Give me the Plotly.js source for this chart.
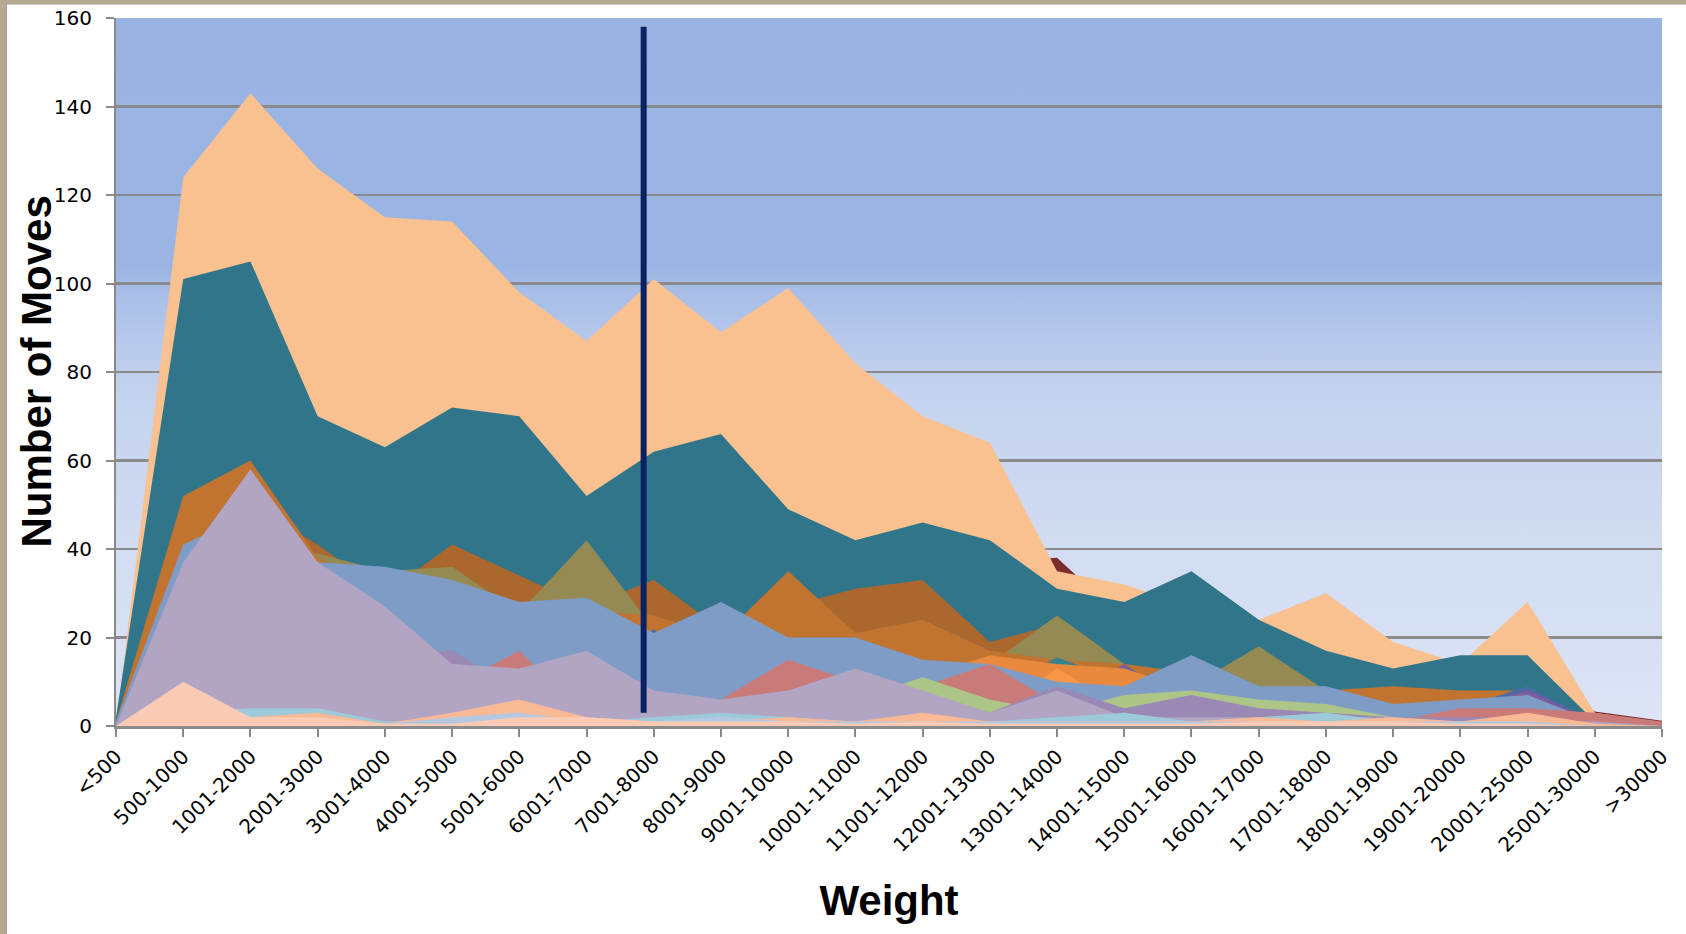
<!DOCTYPE html>
<html>
<head>
<meta charset="utf-8">
<script src="https://cdn.plot.ly/plotly-3.0.1.min.js"></script>
<style>
  html, body { margin: 0; padding: 0; background: #ffffff; }
  #wrap { position: relative; width: 1686px; height: 934px; overflow: hidden; background: #ffffff; }
  #frameTop { position: absolute; left: 0; top: 0; width: 1686px; height: 4px; background: #b5a991; border-bottom: 1px solid #c9c9c9; }
  #frameLeft { position: absolute; left: 0; top: 0; width: 6px; height: 934px; background: #b5a991; border-right: 1px solid #a7a29a; }
  #plotBg { position: absolute; left: 116px; top: 18px; width: 1546px; height: 708px;
    background: linear-gradient(to bottom, #99b4e2 0%, #9ab5e3 35%, #a8bee7 39%, #b3c6ea 44%, #bfcdec 49%, #c5d3ee 54%, #d2dcf2 75%, #dce4f5 100%); }
  #chart { position: absolute; left: 0; top: 0; width: 1686px; height: 934px; }
</style>
</head>
<body>
<div id="wrap">
  <div id="frameTop"></div>
  <div id="frameLeft"></div>
  <div id="plotBg"></div>
  <div id="chart"></div>
</div>
<script>
// ---- data ----
const categories = ['<500','500-1000','1001-2000','2001-3000','3001-4000','4001-5000','5001-6000','6001-7000','7001-8000','8001-9000','9001-10000','10001-11000','11001-12000','12001-13000','13001-14000','14001-15000','15001-16000','16001-17000','17001-18000','18001-19000','19001-20000','20001-25000','25001-30000','>30000'];

const maroon      = [0,60,70,60,55,50,45,40,45,40,45,38,40,37,38,24,20,15,15,10,8,12,3.3,1.2];
const peach       = [0,124,143,126,115,114,98,87,101,89,99,82,70,64,35,32,27,24,30,19,14,28,3,0.5];
const teal        = [2,101,105,70,63,72,70,52,62,66,49,42,46,42,31,28,35,24,17,13,16,16,1,0.5];
const darkBrown   = [0,45,50,41,30,41,34,27,33,22,27,31,33,19,23,13,10,8,7,6,5,4,1,0];
const olive       = [0,30,40,39,35,36,25.6,42,22,15,12,10,10,14,25,14,9,18,8,5,4,3,1,0];
const orange      = [1,52,60,38,30,30,26,26,25,20,35,21,24,17,15,14,12,8,8,9,8,8,1,0];
const smallTeal   = [0,4,5,4,4,4,3,3,3,3,3,3,3,8,15.5,10,4,3,3,2,2,2,0,0];
const darkBlue    = [0,3,5,5,4,4,4,5,22,5,5,4,4,4,4,4,3,3,3,3,4,9,1,0];
const purple      = [0,3,4,4,3,3,3,3,3,3,3,3,3,3,5,14,4,3,4,3,4,8,1,0];
const orange2     = [0,10,12,10,8,7,6,5,6,5,6,8,11,16,14,13,8,5,3,3,2,2,0,0];
const orange3     = [0,5,6,5,4,4,3,3,3,3,3,3,3,3,13,4,3,2,2,1,1,1,0,0];
const blue        = [1,41,48,37,36,33,28,29,21,28,20,20,15,14,10,9,16,9,9,5,6,7,1,0];
const pinkRed     = [0,12,20,15,10,9,17,2,4,6,15,10,9,14,5,3,2,2,2,1,4,4,3,1];
const lightGreen  = [0,5,8,6,3,3,3,2,2,3,4,6,11,6,3,7,8,6,5,2,1,1,0,0];
const purpleLilac = [0,20,30,25,17,17,8,10,6,5,6,8,7,3,9,4,7,4,3,2,2,2,0,0];
const lilac       = [0,37,58,37,27,14,13,17,8,6,8,13,8,3,8,2,2,2,2,2,1,1,1,0];
const lightTeal   = [0,3,4,4,1,1,2,1,2,3,2,1,1,1,2,3,1,2,3,1,1,1,0,0];
const peachSalmon = [0,3,2,3,0.5,3,6,2,1,1,2,1,3,1,1,1,1,2,1,2,1,3,0.5,0];
const blueGray    = [0,1,1,1,0.5,2,3,1,1,2,1,1,1,1,1,1,1,1,1,1,1,1,0,0];
const lightSalmon = [0,10,2,2,0.5,0.5,2,2,1,1,1,0.5,1,0.5,0.5,0.5,0.5,1,1,1,0.5,0.5,0,0];

// vertical marker line (category position and value span)
const markerPosition = 7.85;
const markerSpan = [3, 158];

// y axis ticks
const yTickValues = [0,20,40,60,80,100,120,140,160];

// ---- series, back to front ----
const seriesList = [
  {name: 'S1',  y: maroon,      color: '#7b2c2e'},
  {name: 'S2',  y: peach,       color: '#f9c090'},
  {name: 'S3',  y: teal,        color: '#31758a'},
  {name: 'S4',  y: darkBrown,   color: '#aa672e'},
  {name: 'S5',  y: olive,       color: '#958a53'},
  {name: 'S6',  y: orange,      color: '#c1742f'},
  {name: 'S7',  y: smallTeal,   color: '#36808f'},
  {name: 'S8',  y: darkBlue,    color: '#4a6aa8'},
  {name: 'S9',  y: purple,      color: '#7b5e9c'},
  {name: 'S10', y: orange2,     color: '#e8893e'},
  {name: 'S11', y: orange3,     color: '#f79646'},
  {name: 'S12', y: blue,        color: '#7f9cc7'},
  {name: 'S13', y: pinkRed,     color: '#c97b7a'},
  {name: 'S14', y: lightGreen,  color: '#adc586'},
  {name: 'S15', y: purpleLilac, color: '#9a88b5'},
  {name: 'S16', y: lilac,       color: '#b2a4c3'},
  {name: 'S17', y: lightTeal,   color: '#9ccad8'},
  {name: 'S18', y: peachSalmon, color: '#f9b995'},
  {name: 'S19', y: blueGray,    color: '#b6c8e1'},
  {name: 'S20', y: lightSalmon, color: '#f9cbb4'}
];

const traces = seriesList.map(s => ({
  type: 'scatter',
  mode: 'none',
  x: categories,
  y: s.y,
  name: s.name,
  fill: 'tozeroy',
  fillcolor: s.color,
  line: {width: 0, shape: 'linear'},
  hoverinfo: 'skip'
}));

const gray = '#8a8a8a';
const titleFont = {family: 'Liberation Sans, Arial, sans-serif', size: 42, color: '#000000', weight: 'bold'};

const layout = {
  width: 1686,
  height: 934,
  margin: {l: 116, r: 24, t: 18, b: 208},
  paper_bgcolor: 'rgba(0,0,0,0)',
  plot_bgcolor: 'rgba(0,0,0,0)',
  showlegend: false,
  font: {family: 'DejaVu Sans, sans-serif', size: 20, color: '#000000'},
  xaxis: {
    type: 'category',
    categoryorder: 'array',
    categoryarray: categories,
    range: [0, categories.length - 1],
    showgrid: false,
    zeroline: false,
    showline: true,
    linecolor: gray,
    linewidth: 3,
    ticks: 'outside',
    ticklen: 8,
    tickwidth: 2,
    tickcolor: gray,
    tickangle: -45,
    tickfont: {family: 'DejaVu Sans, sans-serif', size: 20, color: '#000000'},
    title: {text: 'Weight', font: titleFont, standoff: 30},
    fixedrange: true
  },
  yaxis: {
    range: [0, 160],
    tickvals: yTickValues,
    ticktext: yTickValues.map(String),
    showgrid: true,
    gridcolor: gray,
    gridwidth: 2.5,
    zeroline: false,
    showline: true,
    linecolor: gray,
    linewidth: 2,
    ticks: 'outside',
    ticklen: 8,
    tickwidth: 2,
    tickcolor: gray,
    ticklabelstandoff: 10,
    tickfont: {family: 'DejaVu Sans, sans-serif', size: 20, color: '#000000'},
    fixedrange: true
  },
  annotations: [{
    text: 'Number of Moves',
    xref: 'paper', yref: 'paper',
    x: -0.052, y: 0.5,
    xanchor: 'center', yanchor: 'middle',
    textangle: -90,
    showarrow: false,
    font: titleFont
  }],
  shapes: [{
    type: 'line',
    xref: 'x', yref: 'y',
    x0: markerPosition, x1: markerPosition,
    y0: markerSpan[0], y1: markerSpan[1],
    line: {color: '#0b2262', width: 6},
    layer: 'above'
  }]
};

Plotly.newPlot('chart', traces, layout, {displayModeBar: false, staticPlot: true});
</script>
</body>
</html>
